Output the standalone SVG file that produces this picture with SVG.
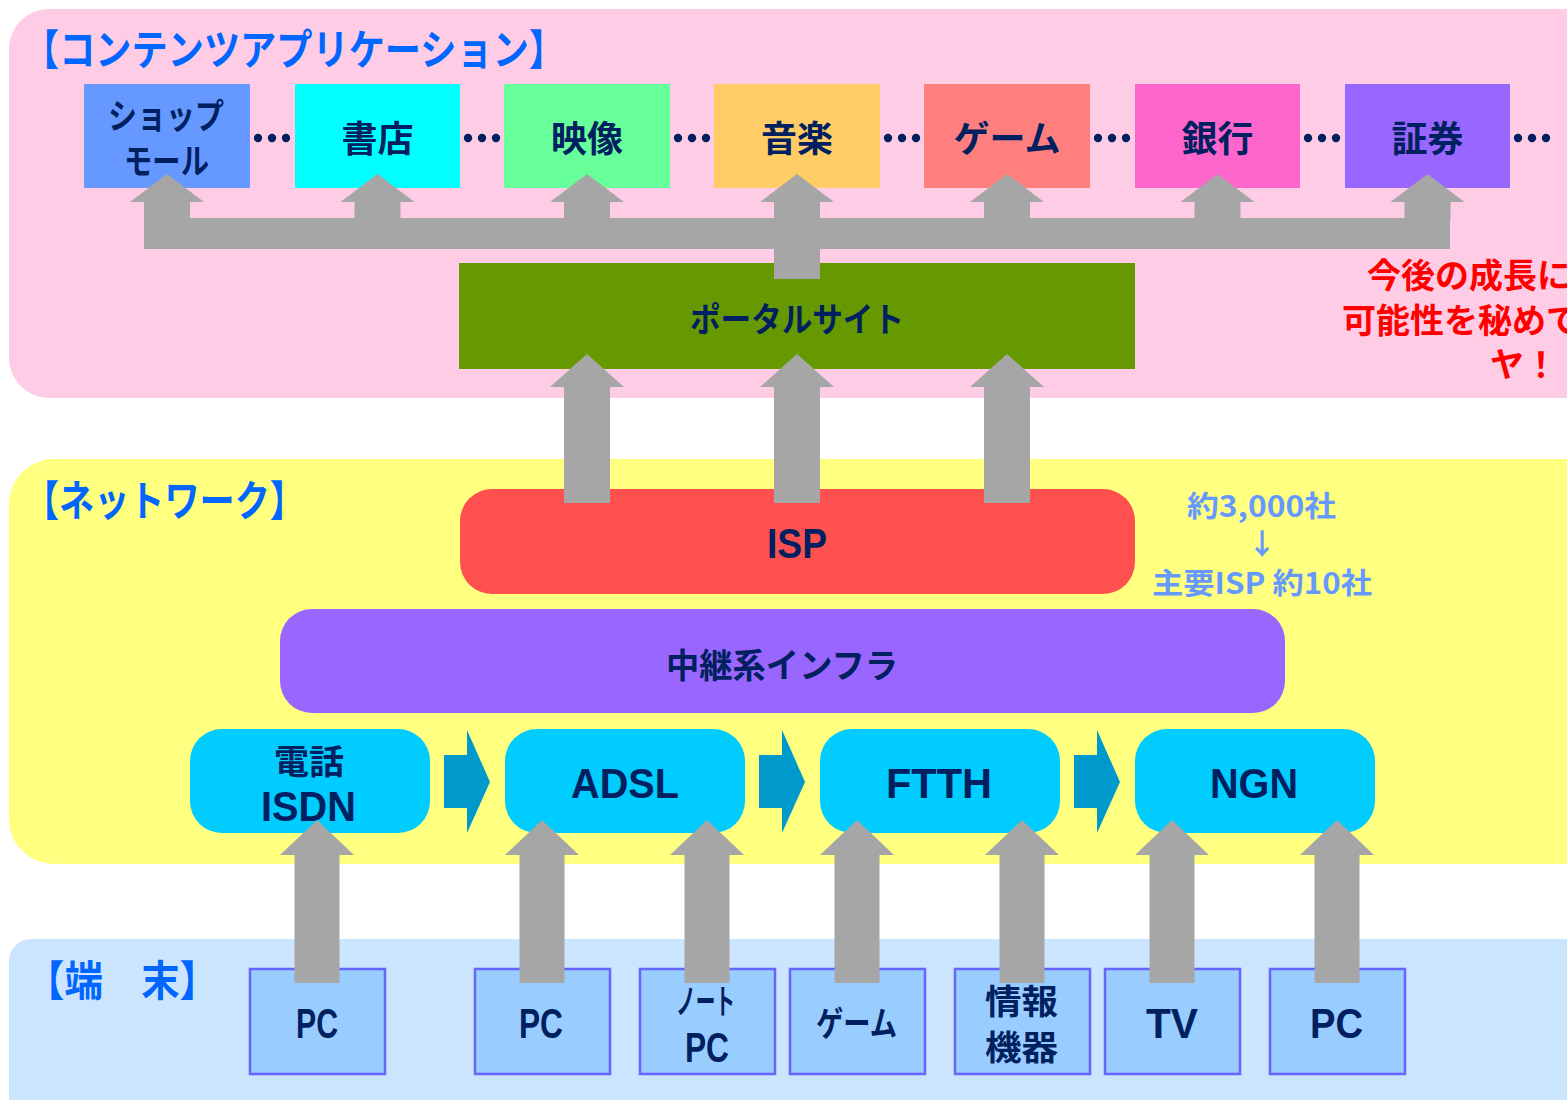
<svg xmlns="http://www.w3.org/2000/svg" width="1567" height="1100" viewBox="0 0 1567 1100">
<style>
.jp{font-family:"Noto Sans CJK JP","Liberation Sans",sans-serif;font-weight:bold}
.la{font-family:"Liberation Sans","Noto Sans CJK JP",sans-serif;font-weight:bold}
.navy{fill:#002060}
.ttl{fill:#0066FF;font-size:42px}
.box{font-size:36px}
.gray{fill:#A6A6A6}
.cyan{fill:#00CCFF}
.chev{fill:#0099CC}
.term{fill:#99CCFF;stroke:#6666FF;stroke-width:2.5}
.dot{fill:#002060}
.side{fill:#6699FF;font-size:29px}
.red{fill:#FF0000;font-size:34px}
</style>
<defs>
<circle id="d" r="4.2" class="dot"/>
<g id="dots"><use href="#d" x="8"/><use href="#d" x="22"/><use href="#d" x="36"/></g>
</defs>

<!-- panels -->
<g id="panel-contents"><rect x="9" y="9" width="1600" height="389" rx="40" fill="#FFCCE5"/>
<text class="jp ttl" x="23" y="65" textLength="542" lengthAdjust="spacingAndGlyphs">【コンテンツアプリケーション】</text></g>
<g id="panel-network"><rect x="9" y="459" width="1600" height="405" rx="45" fill="#FFFF80"/>
<text class="jp ttl" x="24" y="516" textLength="281" lengthAdjust="spacingAndGlyphs">【ネットワーク】</text></g>
<g id="panel-terminal"><rect x="9" y="939" width="1600" height="200" rx="22" fill="#CCE5FF"/>
<text class="jp ttl" x="26" y="996" textLength="192" lengthAdjust="spacingAndGlyphs">【端　末】</text></g>

<!-- top application boxes -->
<g id="app-shop"><rect x="84" y="84" width="166" height="104" fill="#6699FF"/>
<text class="jp navy" font-size="35" x="108" y="129" textLength="116" lengthAdjust="spacingAndGlyphs">ショップ</text>
<text class="jp navy" font-size="35" x="124" y="174" textLength="85" lengthAdjust="spacingAndGlyphs">モール</text></g>
<g id="app-book"><rect x="295" y="84" width="165" height="104" fill="#00FFFF"/>
<text class="jp navy box" x="377.5" y="152" text-anchor="middle">書店</text></g>
<g id="app-video"><rect x="504" y="84" width="166" height="104" fill="#66FF99"/>
<text class="jp navy box" x="587" y="152" text-anchor="middle">映像</text></g>
<g id="app-music"><rect x="714" y="84" width="166" height="104" fill="#FFCC66"/>
<text class="jp navy box" x="797" y="152" text-anchor="middle">音楽</text></g>
<g id="app-game"><rect x="924" y="84" width="166" height="104" fill="#FF7F7F"/>
<text class="jp navy box" x="1007" y="152" text-anchor="middle">ゲーム</text></g>
<g id="app-bank"><rect x="1135" y="84" width="165" height="104" fill="#FF66CC"/>
<text class="jp navy box" x="1217.5" y="152" text-anchor="middle">銀行</text></g>
<g id="app-sec"><rect x="1345" y="84" width="165" height="104" fill="#9966FF"/>
<text class="jp navy box" x="1427.5" y="152" text-anchor="middle">証券</text></g>

<g id="ellipses">
<use href="#dots" x="250" y="138"/><use href="#dots" x="460" y="138"/><use href="#dots" x="670" y="138"/>
<use href="#dots" x="880" y="138"/><use href="#dots" x="1090" y="138"/><use href="#dots" x="1300" y="138"/>
<use href="#dots" x="1510" y="138"/>
</g>

<!-- portal -->
<g id="portal"><rect x="459" y="263" width="676" height="106" fill="#669900"/>
<text class="jp navy" font-size="34" x="690" y="332" textLength="214" lengthAdjust="spacingAndGlyphs">ポータルサイト</text></g>

<!-- red note -->
<g id="note">
<text class="jp red" x="1367" y="288">今後の成長に</text>
<text class="jp red" x="1342" y="333">可能性を秘めて</text>
<text class="jp red" x="1490" y="377">ヤ！</text>
</g>

<!-- network -->
<g id="isp"><rect x="460" y="489" width="675" height="105" rx="32" fill="#FF5050"/>
<text class="la navy" font-size="42" x="767" y="558" textLength="60" lengthAdjust="spacingAndGlyphs">ISP</text></g>
<g id="isp-note">
<text class="jp side" x="1187" y="517" textLength="149" lengthAdjust="spacingAndGlyphs">約3,000社</text>
<text class="jp side" x="1262" y="555" text-anchor="middle">↓</text>
<text class="jp side" x="1152" y="594" textLength="220" lengthAdjust="spacingAndGlyphs">主要ISP 約10社</text>
</g>
<g id="relay"><rect x="280" y="609" width="1005" height="104" rx="32" fill="#9966FF"/>
<text class="jp navy" font-size="34" x="666" y="678" textLength="232" lengthAdjust="spacingAndGlyphs">中継系インフラ</text></g>

<g id="net-isdn"><rect x="190" y="729" width="240" height="104" rx="32" class="cyan"/>
<text class="jp navy" font-size="34" x="274" y="774" textLength="70" lengthAdjust="spacingAndGlyphs">電話</text>
<text class="la navy" font-size="42" x="261" y="821" textLength="95" lengthAdjust="spacingAndGlyphs">ISDN</text></g>
<g id="net-adsl"><rect x="505" y="729" width="240" height="104" rx="32" class="cyan"/>
<text class="la navy" font-size="42" x="571" y="798" textLength="108" lengthAdjust="spacingAndGlyphs">ADSL</text></g>
<g id="net-ftth"><rect x="820" y="729" width="240" height="104" rx="32" class="cyan"/>
<text class="la navy" font-size="42" x="886" y="798" textLength="106" lengthAdjust="spacingAndGlyphs">FTTH</text></g>
<g id="net-ngn"><rect x="1135" y="729" width="240" height="104" rx="32" class="cyan"/>
<text class="la navy" font-size="42" x="1210" y="798" textLength="88" lengthAdjust="spacingAndGlyphs">NGN</text></g>

<!-- terminals -->
<g id="term-pc1"><rect x="250" y="969" width="135" height="105" class="term"/></g>
<g id="term-pc2"><rect x="475" y="969" width="135" height="105" class="term"/></g>
<g id="term-note"><rect x="640" y="969" width="135" height="105" class="term"/></g>
<g id="term-game"><rect x="790" y="969" width="135" height="105" class="term"/></g>
<g id="term-info"><rect x="955" y="969" width="135" height="105" class="term"/></g>
<g id="term-tv"><rect x="1105" y="969" width="135" height="105" class="term"/></g>
<g id="term-pc3"><rect x="1270" y="969" width="135" height="105" class="term"/></g>

<!-- connectors -->
<g id="connectors">
<g class="gray">
<rect x="144" y="218" width="1306" height="31"/>
<rect x="774" y="240" width="46" height="39"/>
<path d="M167 174 L204 202 L190 202 L190 220 L144 220 L144 202 L130 202 Z"/>
<path d="M377.5 174 L414.5 202 L400.5 202 L400.5 220 L354.5 220 L354.5 202 L340.5 202 Z"/>
<path d="M587 174 L624 202 L610 202 L610 220 L564 220 L564 202 L550 202 Z"/>
<path d="M797 174 L834 202 L820 202 L820 220 L774 220 L774 202 L760 202 Z"/>
<path d="M1007 174 L1044 202 L1030 202 L1030 220 L984 220 L984 202 L970 202 Z"/>
<path d="M1217.5 174 L1254.5 202 L1240.5 202 L1240.5 220 L1194.5 220 L1194.5 202 L1180.5 202 Z"/>
<path d="M1427.5 174 L1464.5 202 L1450.5 202 L1450.5 220 L1404.5 220 L1404.5 202 L1390.5 202 Z"/>
<path d="M587 354 L624 387 L610 387 L610 503 L564 503 L564 387 L550 387 Z"/>
<path d="M797 354 L834 387 L820 387 L820 503 L774 503 L774 387 L760 387 Z"/>
<path d="M1007 354 L1044 387 L1030 387 L1030 503 L984 503 L984 387 L970 387 Z"/>
<path d="M317 820 L354 855 L339.5 855 L339.5 983 L294.5 983 L294.5 855 L280 855 Z"/>
<path d="M542 820 L579 855 L564.5 855 L564.5 983 L519.5 983 L519.5 855 L505 855 Z"/>
<path d="M707 820 L744 855 L729.5 855 L729.5 983 L684.5 983 L684.5 855 L670 855 Z"/>
<path d="M857 820 L894 855 L879.5 855 L879.5 983 L834.5 983 L834.5 855 L820 855 Z"/>
<path d="M1022 820 L1059 855 L1044.5 855 L1044.5 983 L999.5 983 L999.5 855 L985 855 Z"/>
<path d="M1172 820 L1209 855 L1194.5 855 L1194.5 983 L1149.5 983 L1149.5 855 L1135 855 Z"/>
<path d="M1337 820 L1374 855 L1359.5 855 L1359.5 983 L1314.5 983 L1314.5 855 L1300 855 Z"/>
</g>
<g class="chev">
<path d="M444 755 L467 755 L467 730 L490 782 L467 833 L467 808 L444 808 Z"/>
<path d="M759 755 L782 755 L782 730 L805 782 L782 833 L782 808 L759 808 Z"/>
<path d="M1074 755 L1097 755 L1097 730 L1120 782 L1097 833 L1097 808 L1074 808 Z"/>
</g>
</g>

<!-- terminal labels -->
<g id="term-labels">
<text class="la navy" font-size="42" x="296" y="1038" textLength="42" lengthAdjust="spacingAndGlyphs">PC</text>
<text class="la navy" font-size="42" x="519" y="1038" textLength="44" lengthAdjust="spacingAndGlyphs">PC</text>
<text class="jp navy" font-size="34" x="676" y="1014" textLength="59" lengthAdjust="spacingAndGlyphs">ノート</text>
<text class="la navy" font-size="42" x="685" y="1062" textLength="44" lengthAdjust="spacingAndGlyphs">PC</text>
<text class="jp navy" font-size="34" x="816" y="1036" textLength="81" lengthAdjust="spacingAndGlyphs">ゲーム</text>
<text class="jp navy" font-size="34" x="985" y="1014" textLength="73" lengthAdjust="spacingAndGlyphs">情報</text>
<text class="jp navy" font-size="34" x="985" y="1060" textLength="73" lengthAdjust="spacingAndGlyphs">機器</text>
<text class="la navy" font-size="42" x="1146" y="1038" textLength="52" lengthAdjust="spacingAndGlyphs">TV</text>
<text class="la navy" font-size="42" x="1310" y="1038" textLength="53" lengthAdjust="spacingAndGlyphs">PC</text>
</g>
</svg>
